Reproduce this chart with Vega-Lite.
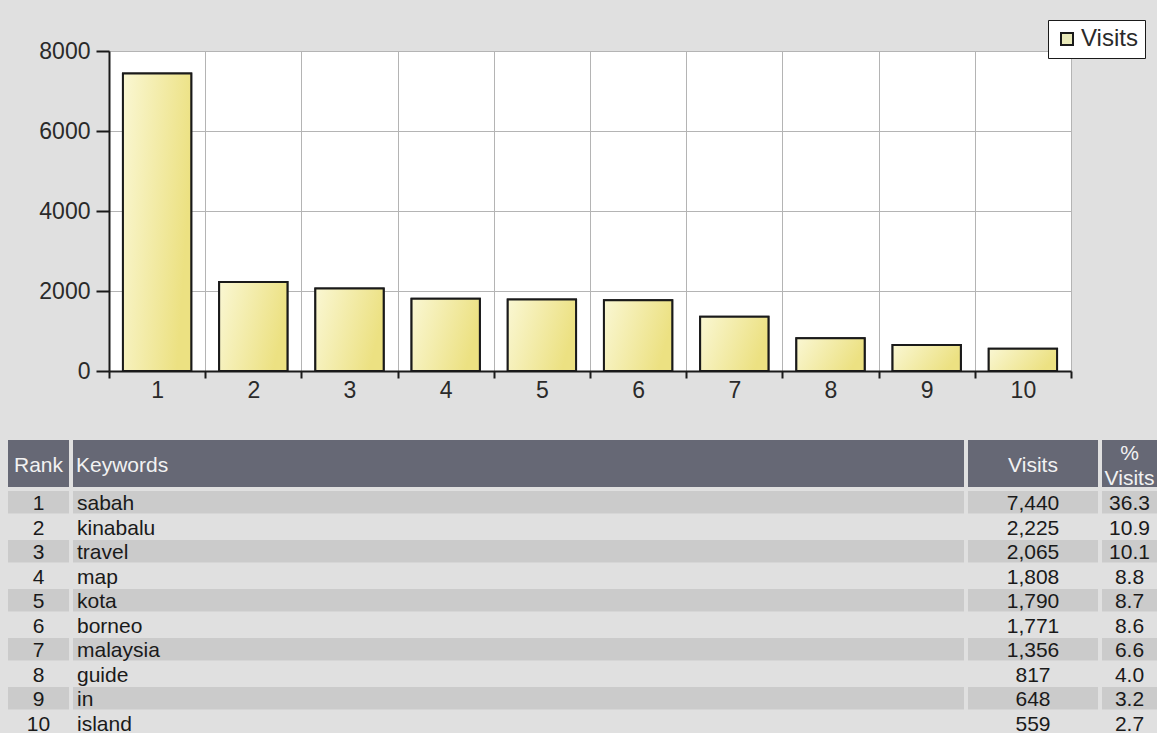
{
  "$schema": "https://vega.github.io/schema/vega-lite/v6.json",
  "background": "#e0e0e0",
  "padding": {"left": 8, "top": 19, "right": 0, "bottom": 0},
  "config": {"font": "Liberation Sans", "view": {"stroke": null}},
  "datasets": {
    "kw": [
      {"rank": 1, "keyword": "sabah", "visits": 7440, "pct": 36.3},
      {"rank": 2, "keyword": "kinabalu", "visits": 2225, "pct": 10.9},
      {"rank": 3, "keyword": "travel", "visits": 2065, "pct": 10.1},
      {"rank": 4, "keyword": "map", "visits": 1808, "pct": 8.8},
      {"rank": 5, "keyword": "kota", "visits": 1790, "pct": 8.7},
      {"rank": 6, "keyword": "borneo", "visits": 1771, "pct": 8.6},
      {"rank": 7, "keyword": "malaysia", "visits": 1356, "pct": 6.6},
      {"rank": 8, "keyword": "guide", "visits": 817, "pct": 4.0},
      {"rank": 9, "keyword": "in", "visits": 648, "pct": 3.2},
      {"rank": 10, "keyword": "island", "visits": 559, "pct": 2.7}
    ],
    "hdr": [
      {"col": "Rank", "label": "Rank"},
      {"col": "Keywords", "label": "Keywords"},
      {"col": "Visits", "label": "Visits"},
      {"col": "Pct", "label": "%\nVisits"}
    ]
  },
  "spacing": 37,
  "vconcat": [
    {
      "spacing": 0,
      "hconcat": [
        {
          "width": 1, "height": 1,
          "data": {"values": []},
          "mark": "text"
        },
        {
          "width": 962,
          "height": 320,
          "data": {"name": "kw"},
          "view": {"fill": "white", "stroke": "#b4b4b4"},
          "encoding": {
            "x": {
              "field": "rank", "type": "ordinal",
              "scale": {"paddingInner": 0, "paddingOuter": 0},
              "axis": {"title": null, "labelAngle": 0, "tickBand": "extent", "grid": true, "gridColor": "#b4b4b4", "gridWidth": 1, "domainColor": "#1a1a1a", "domainWidth": 2, "tickColor": "#1a1a1a", "tickWidth": 2, "tickSize": 7, "labelPadding": 1, "labelFontSize": 23, "labelColor": "#2a2a2a"}
            },
            "y": {
              "field": "visits", "type": "quantitative",
              "scale": {"domain": [0, 8000], "nice": false},
              "axis": {"title": " ", "titleFontSize": 20, "titlePadding": 0, "minExtent": 79, "values": [0, 2000, 4000, 6000, 8000], "format": "d", "grid": true, "gridColor": "#b4b4b4", "gridWidth": 1, "domainColor": "#1a1a1a", "domainWidth": 2, "tickColor": "#1a1a1a", "tickWidth": 2, "tickSize": 13, "labelPadding": 6, "labelFontSize": 23, "labelColor": "#2a2a2a"}
            }
          },
          "layer": [
            {
              "mark": {"type": "bar", "width": {"band": 0.71}, "stroke": "#1a1a1a", "strokeWidth": 2},
              "encoding": {
                "fill": {
                  "datum": "Visits", "type": "nominal",
                  "scale": {"range": ["#e9e9b9"]},
                  "legend": {"title": null, "orient": "none", "legendX": 1040, "legendY": -31, "fillColor": "white", "strokeColor": "#1a1a1a", "padding": 7, "symbolType": "square", "symbolSize": 144, "symbolStrokeColor": "#1a1a1a", "symbolStrokeWidth": 2, "labelFontSize": 24, "labelColor": "#2a2a2a", "labelOffset": 2, "cornerRadius": 0}
                }
              }
            },
            {
              "mark": {
                "type": "bar", "width": {"band": 0.71}, "stroke": "#1a1a1a", "strokeWidth": 2,
                "fill": {"gradient": "linear", "x1": 0, "y1": 0, "x2": 1, "y2": 0.3, "stops": [{"offset": 0, "color": "#faf7d3"}, {"offset": 1, "color": "#ece182"}]}
              }
            }
          ]
        }
      ]
    },
    {
      "spacing": 1,
      "vconcat": [
        {
          "spacing": 4,
          "hconcat": [
            {
              "width": 61, "height": 47, "data": {"name": "hdr"},
              "transform": [{"filter": "datum.col === 'Rank'"}],
              "layer": [
                {"mark": {"type": "rect", "color": "#666875"}, "encoding": {"y": {"field": "col", "type": "nominal", "axis": null, "scale": {"padding": 0}}}},
                {"mark": {"type": "text", "color": "#f2f2f2", "fontSize": 21, "dy": 2}, "encoding": {"text": {"field": "label"}}}
              ]
            },
            {
              "width": 891, "height": 47, "data": {"name": "hdr"},
              "transform": [{"filter": "datum.col === 'Keywords'"}],
              "layer": [
                {"mark": {"type": "rect", "color": "#666875"}, "encoding": {"y": {"field": "col", "type": "nominal", "axis": null, "scale": {"padding": 0}}}},
                {"mark": {"type": "text", "color": "#f2f2f2", "fontSize": 21, "dy": 2, "dx": 3, "align": "left"}, "encoding": {"text": {"field": "label"}, "x": {"datum": 0, "type": "quantitative", "scale": {"domain": [0, 1]}, "axis": null}}}
              ]
            },
            {
              "width": 130, "height": 47, "data": {"name": "hdr"},
              "transform": [{"filter": "datum.col === 'Visits'"}],
              "layer": [
                {"mark": {"type": "rect", "color": "#666875"}, "encoding": {"y": {"field": "col", "type": "nominal", "axis": null, "scale": {"padding": 0}}}},
                {"mark": {"type": "text", "color": "#f2f2f2", "fontSize": 21, "dy": 2}, "encoding": {"text": {"field": "label"}}}
              ]
            },
            {
              "width": 55, "height": 47, "data": {"name": "hdr"},
              "transform": [{"filter": "datum.col === 'Pct'"}],
              "layer": [
                {"mark": {"type": "rect", "color": "#666875"}, "encoding": {"y": {"field": "col", "type": "nominal", "axis": null, "scale": {"padding": 0}}}},
                {"mark": {"type": "text", "color": "#f2f2f2", "fontSize": 21, "dy": -10, "lineHeight": 25, "lineBreak": "\n"}, "encoding": {"text": {"field": "label"}}}
              ]
            }
          ]
        },
        {
          "spacing": 4,
          "hconcat": [
            {
              "width": 61, "height": 245, "data": {"name": "kw"},
              "encoding": {"y": {"field": "rank", "type": "ordinal", "axis": null, "scale": {"paddingInner": 0.09, "paddingOuter": 0.045}}},
              "layer": [
                {"mark": {"type": "rect"}, "encoding": {"fill": {"condition": {"test": "datum.rank % 2 === 1", "value": "#cbcbcb"}, "value": "#e0e0e0"}}},
                {"mark": {"type": "text", "color": "#1a1a1a", "fontSize": 21, "dy": 2}, "encoding": {"text": {"field": "rank", "type": "ordinal"}}}
              ]
            },
            {
              "width": 891, "height": 245, "data": {"name": "kw"},
              "encoding": {"y": {"field": "rank", "type": "ordinal", "axis": null, "scale": {"paddingInner": 0.09, "paddingOuter": 0.045}}},
              "layer": [
                {"mark": {"type": "rect"}, "encoding": {"fill": {"condition": {"test": "datum.rank % 2 === 1", "value": "#cbcbcb"}, "value": "#e0e0e0"}}},
                {"mark": {"type": "text", "color": "#1a1a1a", "fontSize": 21, "dy": 2, "dx": 4, "align": "left"}, "encoding": {"text": {"field": "keyword", "type": "nominal"}, "x": {"datum": 0, "type": "quantitative", "scale": {"domain": [0, 1]}, "axis": null}}}
              ]
            },
            {
              "width": 130, "height": 245, "data": {"name": "kw"},
              "encoding": {"y": {"field": "rank", "type": "ordinal", "axis": null, "scale": {"paddingInner": 0.09, "paddingOuter": 0.045}}},
              "layer": [
                {"mark": {"type": "rect"}, "encoding": {"fill": {"condition": {"test": "datum.rank % 2 === 1", "value": "#cbcbcb"}, "value": "#e0e0e0"}}},
                {"mark": {"type": "text", "color": "#1a1a1a", "fontSize": 21, "dy": 2}, "encoding": {"text": {"field": "visits", "type": "quantitative", "format": ","}}}
              ]
            },
            {
              "width": 55, "height": 245, "data": {"name": "kw"},
              "encoding": {"y": {"field": "rank", "type": "ordinal", "axis": null, "scale": {"paddingInner": 0.09, "paddingOuter": 0.045}}},
              "layer": [
                {"mark": {"type": "rect"}, "encoding": {"fill": {"condition": {"test": "datum.rank % 2 === 1", "value": "#cbcbcb"}, "value": "#e0e0e0"}}},
                {"mark": {"type": "text", "color": "#1a1a1a", "fontSize": 21, "dy": 2}, "encoding": {"text": {"field": "pct", "type": "quantitative", "format": ".1f"}}}
              ]
            }
          ]
        }
      ]
    }
  ]
}
